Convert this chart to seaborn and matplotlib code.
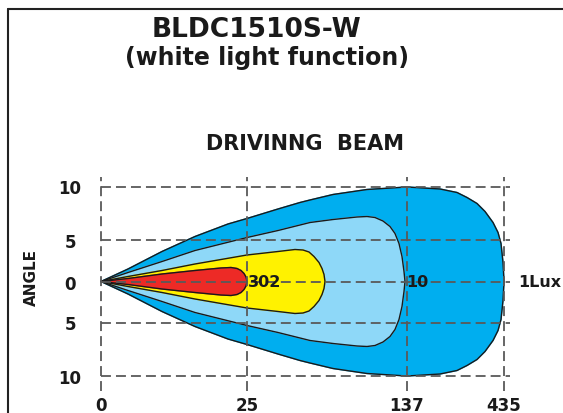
import numpy as np
import seaborn as sns
import matplotlib
matplotlib.use('Agg')
import matplotlib.pyplot as plt
from matplotlib.lines import Line2D

# contour outlines: distance along beam vs half-width (drawing units)
outer_x = [0, 27, 61, 94, 127, 146, 177, 199, 209, 232, 266, 306, 339, 356, 366, 376, 384, 392, 397, 400, 402, 403]
outer_w = [0, 12.5, 30, 45, 57.5, 63, 72.5, 79, 81.5, 87, 92, 94.5, 92.5, 89, 84, 78, 70, 59, 49, 38, 19, 0]
mid_x = [0, 27, 61, 94, 146, 177, 209, 232, 256, 266, 274, 282, 289, 294, 298, 301, 303, 304]
mid_w = [0, 9, 20, 31, 44, 51, 59, 62, 64.5, 65, 64, 60.5, 55, 48, 38, 25, 10, 0]
yellow_x = [0, 27, 61, 94, 146, 177, 194, 202, 208, 213, 218, 221, 223, 224]
yellow_w = [0, 5, 11, 17.5, 26.5, 30, 32, 31.5, 29.5, 25, 19, 13, 7, 0]
red_x = [0, 27, 61, 94, 120, 130, 136, 140, 143, 145, 146]
red_w = [0, 3, 7.5, 11, 13.5, 14, 13, 11, 8, 4.5, 0]

contours = [
    (outer_x, outer_w, '#00AEEF'),
    (mid_x, mid_w, '#8ED8F8'),
    (yellow_x, yellow_w, '#FFF200'),
    (red_x, red_w, '#ED2A26'),
]

# non-linear axis: where each label sits
x_tick_pos = [0, 146, 306, 403]
x_tick_labels = ['0', '25', '137', '435']
y_tick_pos = [95, 42, 0, -41, -94]
y_tick_labels = ['10', '5', '0', '5', '10']

zone_labels = ['302', '10', '1Lux']
zone_label_x = [147, 305.5, 417]

sns.set_style('white')
plt.rcParams['font.family'] = ['DejaVu Sans']

fig = plt.figure(figsize=(5.63, 4.14), dpi=100)
ax = fig.add_axes([91 / 563, 16.5 / 414, 430 / 563, 225 / 414])

for xs, ws, col in contours:
    xs = np.array(xs, dtype=float)
    ws = np.array(ws, dtype=float)
    px = np.concatenate([xs, xs[::-1]])
    py = np.concatenate([ws, -ws[::-1]])
    ax.fill(px, py, color=col, zorder=1)
    sns.lineplot(x=px, y=py, sort=False, estimator=None, color='#1a1a1a',
                 linewidth=1.0, ax=ax, zorder=2)

dash = (0, (5.5, 2.8))
grid_col = '#595959'
ax.hlines(y_tick_pos, 0, 409, colors=grid_col, linestyles=dash, linewidth=1.3, zorder=3)
ax.vlines(x_tick_pos, -109, 104.5, colors=grid_col, linestyles=dash, linewidth=1.3, zorder=3)

for lab, xv in zip(zone_labels, zone_label_x):
    ax.text(xv, 0, lab, ha='left', va='center', fontsize=11.5, fontweight='bold',
            color='#1a1a1a', zorder=4, clip_on=False)

ax.set_xlim(-10, 420)
ax.set_ylim(-115, 110)
ax.set_xticks(x_tick_pos, x_tick_labels)
ax.set_yticks(y_tick_pos, y_tick_labels)
ax.tick_params(axis='both', length=0, labelsize=12, labelcolor='#1a1a1a')
ax.tick_params(axis='x', pad=0)
ax.tick_params(axis='y', pad=15)
for t in ax.get_xticklabels() + ax.get_yticklabels():
    t.set_fontweight('bold')
for t in ax.get_yticklabels():
    t.set_horizontalalignment('center')
for s in ax.spines.values():
    s.set_visible(False)
ax.set_facecolor('none')

ax.set_ylabel('ANGLE', fontsize=11, fontweight='bold', color='#1a1a1a')
ax.yaxis.set_label_coords((31 - 91) / 430, (397.5 - 277) / 225)
ax.yaxis.label.set_va('center')

fig.text(256 / 563, 1 - 37 / 414, 'BLDC1510S-W', ha='center', va='baseline',
         fontsize=19, fontweight='bold', color='#1a1a1a')
fig.text(267 / 563, 1 - 65 / 414, '(white light function)', ha='center', va='baseline',
         fontsize=17, fontweight='bold', color='#1a1a1a')
fig.text(305 / 563, 1 - 150 / 414, 'DRIVINNG  BEAM', ha='center', va='baseline',
         fontsize=15, fontweight='bold', color='#1a1a1a')

# outer frame (left and top edges visible)
fx, fy = 8 / 563, 1 - 10 / 414
fig.add_artist(Line2D([fx, fx], [0, fy], color='#222222', linewidth=1.5))
fig.add_artist(Line2D([fx, 1], [fy, fy], color='#222222', linewidth=1.5))

fig.savefig('out.png', dpi=100, facecolor='white')
